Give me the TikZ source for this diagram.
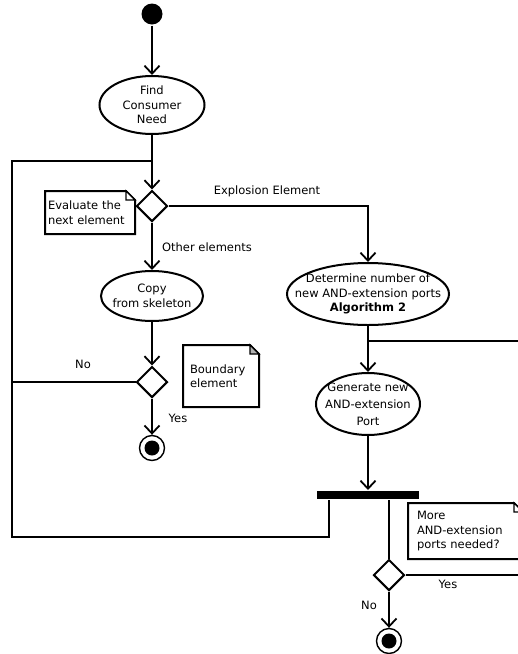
\documentclass[tikz,border=0pt]{standalone}
\usepackage{fontspec}
\setmainfont{DejaVu Sans}
\usetikzlibrary{shapes.geometric,arrows.meta}
\begin{document}
\begin{tikzpicture}[x=1pt,y=-1pt,
  font=\fontsize{11.5}{14.5}\selectfont,
  line width=2pt,
  arr/.style={-{Straight Barb[length=8pt,width=15pt,line width=1.8pt]}},
  act/.style={ellipse,draw,inner sep=0pt},
  txt/.style={align=center,inner sep=0pt},
  dec/.style={diamond,draw,minimum width=31pt,minimum height=31pt,inner sep=0pt,aspect=1},
  notetext/.style={rectangle,align=left,inner sep=0pt,anchor=north west},
  lbl/.style={inner sep=0pt},
  fin/.style={circle,draw,line width=1.4pt,minimum size=25pt,inner sep=0pt},
  findot/.style={circle,fill,minimum size=15pt,inner sep=0pt},
]
\useasboundingbox (0,0) rectangle (518,654);

% nodes
\node[circle,fill,minimum size=21pt,inner sep=0pt] (start) at (152,14) {};
\node[act,minimum width=105pt,minimum height=58pt] (find) at (152,105) {};
\node[txt] (findt) at (find) {Find\\Consumer\\Need};
\node[dec] (dec1) at (152,206) {};
\node[act,minimum width=102pt,minimum height=50pt] (copy) at (152,296) {};
\node[txt] (copyt) at (copy) {Copy\\from skeleton};
\node[dec] (dec2) at (152,382) {};
\node[fin] (end1) at (152,448) {};
\node[findot] (end1i) at (end1) {};

\node[act,minimum width=162pt,minimum height=62pt] (det) at (368,294) {};
\node[txt] (dett) at (det) {Determine number of\\new AND-extension ports\\\textbf{Algorithm 2}};
\node[act,minimum width=104pt,minimum height=62pt] (gen) at (368,404) {};
\node[txt,font=\fontsize{11.5}{17}\selectfont] (gent) at (gen) {Generate new\\AND-extension\\Port};
\node[rectangle,fill,minimum width=102pt,minimum height=8pt,inner sep=0pt] (bar) at (368,495) {};
\node[dec] (dec3) at (389,575) {};
\node[fin] (end2) at (389,641) {};
\node[findot] (end2i) at (end2) {};

% notes
\node[notetext,minimum width=86pt,minimum height=41pt,text width=84pt,inner xsep=2pt] (n1) at (45,191) {Evaluate the\\next element};
\node[notetext,minimum width=68pt,minimum height=60pt,text width=62pt,inner xsep=6pt] (n2) at (183,345) {Boundary\\element};
\node[notetext,minimum width=105pt,minimum height=54pt,text width=97pt,inner xsep=8pt] (n3) at (408,503) {More\\AND-extension\\ports needed?};
\foreach \n/\f in {n1/white,n2/gray!60,n3/white}{
  \draw (\n.north west) -- ([xshift=-9pt]\n.north east) -- ([yshift=-9pt]\n.north east) -- (\n.south east) -- (\n.south west) -- cycle;
  \draw[fill=\f,line width=1.4pt] ([xshift=-9pt]\n.north east) -- ([xshift=-9pt,yshift=-9pt]\n.north east) -- ([yshift=-9pt]\n.north east) -- cycle;
}

% labels
\node[lbl] (lexp) at (267,191) {Explosion Element};
\node[lbl] (loth) at (207,247) {Other elements};
\node[lbl] (lno1) at (83,364) {No};
\node[lbl] (lyes1) at (178,418) {Yes};
\node[lbl] (lyes2) at (448,584) {Yes};
\node[lbl] (lno2) at (369,605) {No};

% coordinates
\coordinate (jtop) at (152,161);
\coordinate (lt) at (12,161);
\coordinate (lb) at (12,537);
\coordinate (bb) at (329,537);
\coordinate (jr) at (368,341);
\coordinate (rt) at (518,341);
\coordinate (rb) at (518,575);

% connectors
\draw[arr] (start) -- (find.north);
\draw[arr] (find.south) -- (dec1.north);
\draw[arr] (dec1.east) -| (det.north);
\draw[arr] (dec1.south) -- (copy.north);
\draw[arr] (copy.south) -- (dec2.north);
\draw[arr] (dec2.south) -- (end1.north);
\draw (dec2.west) -- (dec2.west -| lt);
\draw (bar.south -| bb) -- (bb) -- (lb) -- (lt) -- (jtop);
\draw[arr] (det.south) -- (gen.north);
\draw (jr) -- (rt);
\draw[arr] (gen.south) -- (bar.north);
\draw (bar.south -| dec3) -- (dec3.north);
\draw (dec3.east) -- (rb);
\draw[arr] (dec3.south) -- (end2.north);
\end{tikzpicture}
\end{document}
